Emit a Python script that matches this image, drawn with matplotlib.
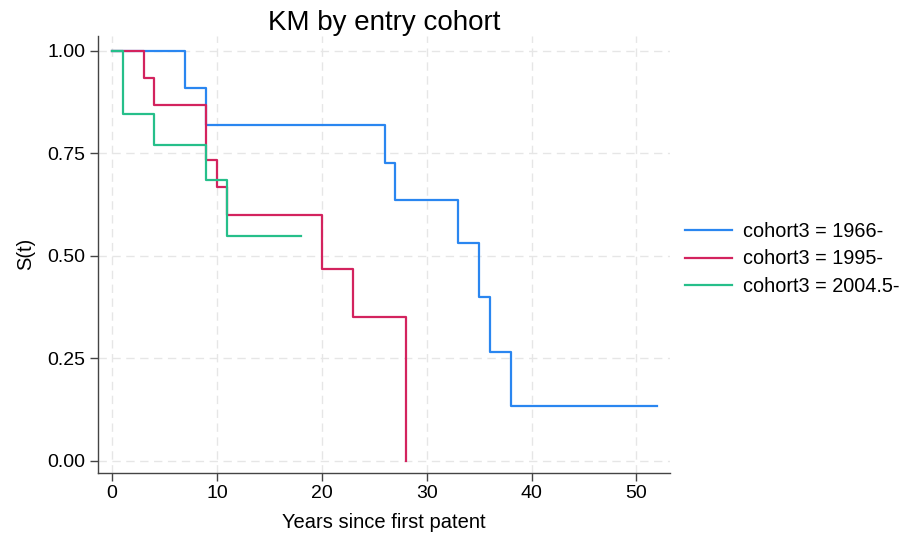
import matplotlib
matplotlib.use("Agg")
import matplotlib.pyplot as plt

plt.rcParams['font.family'] = ['Liberation Sans', 'DejaVu Sans']

labels = ["cohort3 = 1966-", "cohort3 = 1995-", "cohort3 = 2004.5-"]
colors = ["#2a86f0", "#d3235e", "#26bf8a"]

t_1966 = [0, 7, 9, 26, 27, 33, 35, 36, 38, 52]
s_1966 = [1.0, 0.909, 0.818, 0.727, 0.636, 0.530, 0.398, 0.265, 0.133, 0.133]

t_1995 = [0, 3, 4, 9, 10, 11, 20, 23, 28]
s_1995 = [1.0, 0.933, 0.867, 0.733, 0.667, 0.600, 0.467, 0.350, 0.0]

t_2004 = [0, 1, 4, 9, 11, 18]
s_2004 = [1.0, 0.846, 0.769, 0.684, 0.547, 0.547]

x_ticks = [0, 10, 20, 30, 40, 50]
y_ticks = [0.0, 0.25, 0.5, 0.75, 1.0]
y_ticklabels = ["0.00", "0.25", "0.50", "0.75", "1.00"]

W, H = 900, 535
fig = plt.figure(figsize=(W / 100, H / 100), dpi=100)
left_px, right_px, top_px, bottom_px = 98, 670, 36, 472.5
ax = fig.add_axes([left_px / W, 1 - bottom_px / H,
                   (right_px - left_px) / W, (bottom_px - top_px) / H])

for t, s, c, lab in zip([t_1966, t_1995, t_2004], [s_1966, s_1995, s_2004], colors, labels):
    ax.step(t, s, where='post', color=c, lw=1.6, label=lab)

ax.set_xlim(-1.34, 53.2)
ax.set_ylim(-0.029, 1.036)
ax.set_xticks(x_ticks)
ax.set_yticks(y_ticks)
ax.set_yticklabels(y_ticklabels)
ax.grid(True, color='#e6e6e6', linestyle=(0, (6, 4)), lw=1.0)
ax.set_axisbelow(True)
for sp in ['top', 'right']:
    ax.spines[sp].set_visible(False)
for sp in ['left', 'bottom']:
    ax.spines[sp].set_color('#444444')
    ax.spines[sp].set_linewidth(1.0)
ax.tick_params(axis='both', labelsize=14, length=5.5, width=1.0, color='#444444',
               direction='out', pad=3.5)
ax.set_xlabel("Years since first patent", fontsize=14.5, labelpad=8)
ax.set_ylabel("S(t)", fontsize=14.5, labelpad=9)
ax.set_title("KM by entry cohort", fontsize=20, pad=4)

fs = 14.3
em = fs * 100 / 72
ax.legend(loc='center left', bbox_to_anchor=((685 - 0.4 * em) / W, 1 - 259 / H),
          bbox_transform=fig.transFigure, borderaxespad=0, frameon=False,
          fontsize=fs, handlelength=2.36, labelspacing=0.42, handletextpad=0.55)

fig.savefig("out.png", dpi=100)
